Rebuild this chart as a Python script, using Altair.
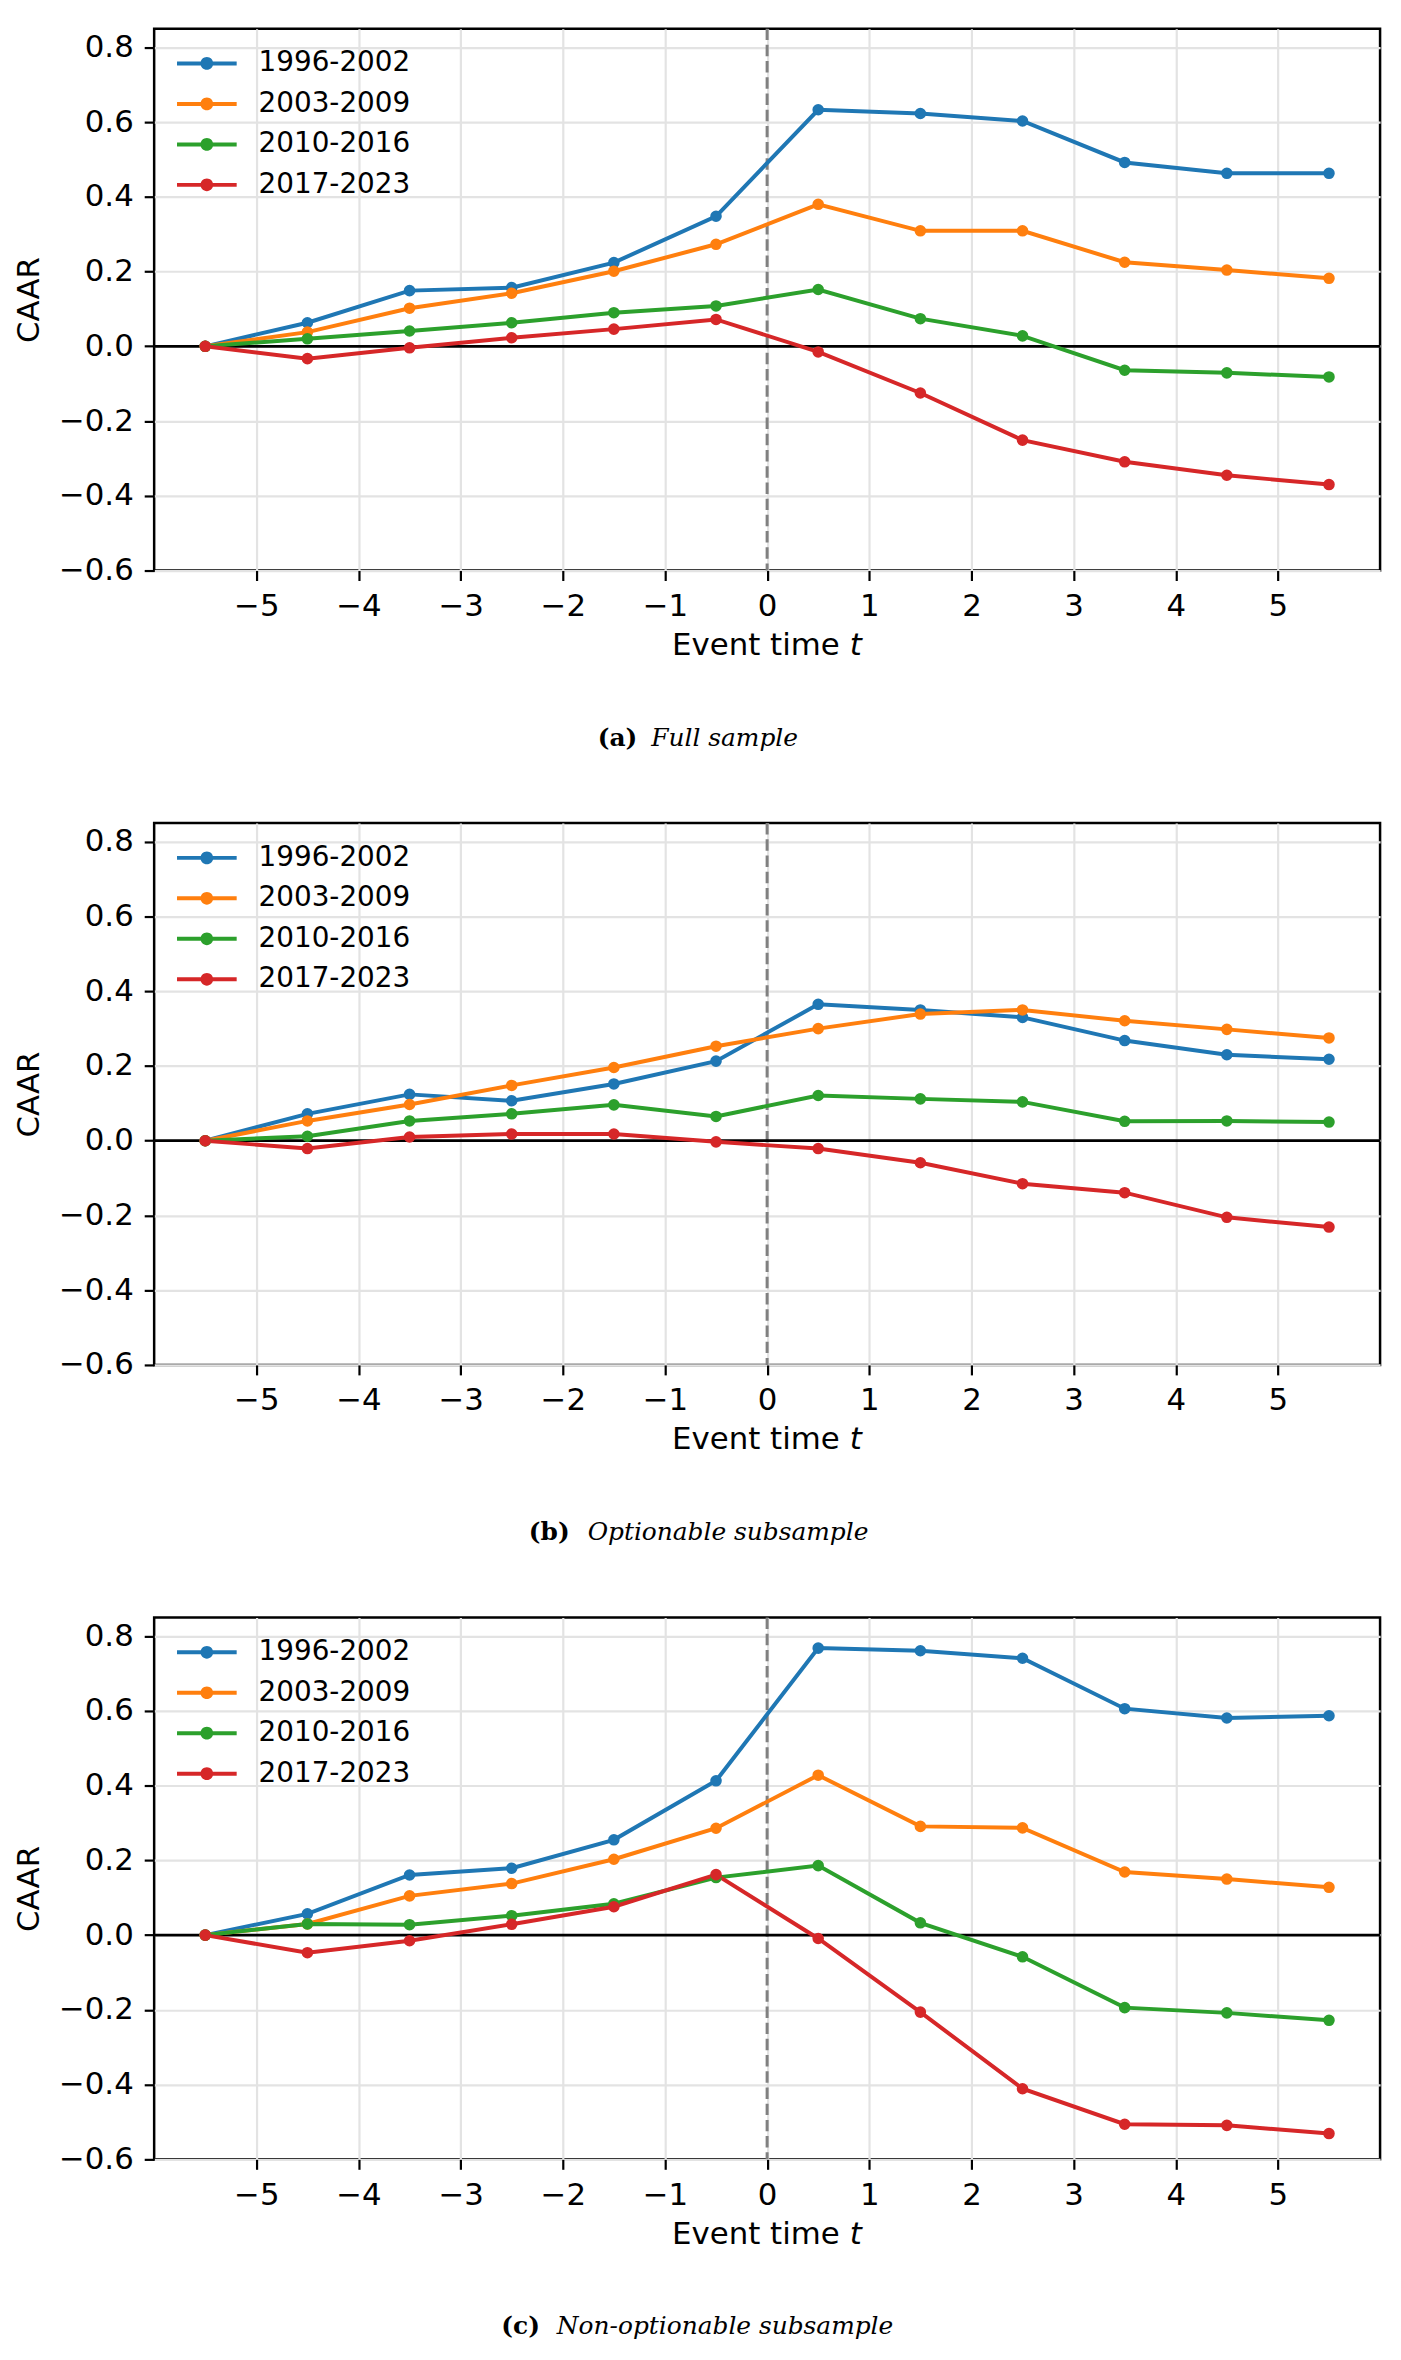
import altair as alt
import pandas as pd

# ---------------- data ----------------
event_time = [-5.5, -4.5, -3.5, -2.5, -1.5, -0.5, 0.5, 1.5, 2.5, 3.5, 4.5, 5.5]
periods = ["1996-2002", "2003-2009", "2010-2016", "2017-2023"]
period_colors = ["#1f77b4", "#ff7f0e", "#2ca02c", "#d62728"]

# (a) Full sample
full_1996 = [0.0, 0.063, 0.149, 0.157, 0.224, 0.348, 0.633, 0.623, 0.603, 0.492, 0.463, 0.463]
full_2003 = [0.0, 0.038, 0.102, 0.142, 0.201, 0.273, 0.380, 0.309, 0.309, 0.225, 0.204, 0.182]
full_2010 = [0.0, 0.020, 0.041, 0.063, 0.090, 0.108, 0.152, 0.074, 0.028, -0.064, -0.071, -0.082]
full_2017 = [0.0, -0.033, -0.004, 0.023, 0.046, 0.072, -0.015, -0.125, -0.251, -0.309, -0.345, -0.370]

# (b) Optionable subsample
opt_1996 = [0.0, 0.072, 0.124, 0.107, 0.152, 0.213, 0.365, 0.350, 0.330, 0.268, 0.230, 0.218]
opt_2003 = [0.0, 0.053, 0.097, 0.148, 0.196, 0.253, 0.300, 0.339, 0.350, 0.321, 0.298, 0.275]
opt_2010 = [0.0, 0.012, 0.053, 0.072, 0.096, 0.065, 0.121, 0.112, 0.104, 0.052, 0.053, 0.050]
opt_2017 = [0.0, -0.021, 0.010, 0.018, 0.018, -0.003, -0.021, -0.059, -0.115, -0.139, -0.205, -0.231]

# (c) Non-optionable subsample
non_1996 = [0.0, 0.057, 0.161, 0.179, 0.255, 0.413, 0.768, 0.761, 0.741, 0.606, 0.581, 0.587]
non_2003 = [0.0, 0.030, 0.105, 0.138, 0.203, 0.286, 0.428, 0.291, 0.287, 0.169, 0.150, 0.128]
non_2010 = [0.0, 0.030, 0.028, 0.052, 0.084, 0.154, 0.186, 0.033, -0.058, -0.194, -0.208, -0.228]
non_2017 = [0.0, -0.047, -0.015, 0.029, 0.076, 0.162, -0.009, -0.206, -0.411, -0.506, -0.509, -0.531]

x_ticks = [-5, -4, -3, -2, -1, 0, 1, 2, 3, 4, 5]
y_ticks = [-0.6, -0.4, -0.2, 0.0, 0.2, 0.4, 0.6, 0.8]

caption_labels = ["(a)", "(b)", "(c)"]
caption_texts = ["Full sample", "Optionable subsample", "Non-optionable subsample"]
x_title_main = "Event time"
x_title_var = "t"

# ---------------- layout / style ----------------
W, H = 1233, 545
SANS = "DejaVu Sans"
SERIF = "DejaVu Serif"
FS = 31
CAP_FS = 25
# caption anchor positions (plot-relative px): label right edge, text left edge
caption_pos = [(486, 500), (418, 436), (388, 405)]

legend_path = ("M-3.0,-0.2L3.0,-0.2L3.0,0.2L-3.0,0.2Z "
               "M0.64,0A0.64,0.64 0 1,1 -0.64,0A0.64,0.64 0 1,1 0.64,0Z")


def text_layer(s, x_px, y_px, align, font, size, style=None, weight=None):
    kw = dict(align=align, baseline="alphabetic", font=font, fontSize=size, color="black")
    if style:
        kw["fontStyle"] = style
    if weight:
        kw["fontWeight"] = weight
    return alt.Chart(pd.DataFrame({"s": [s]})).mark_text(**kw).encode(
        x=alt.value(x_px), y=alt.value(y_px), text="s:N"
    )


def panel(series, idx):
    rows = []
    for name, vals in zip(periods, series):
        for t, v in zip(event_time, vals):
            rows.append({"t": t, "caar": v, "period": name})
    df = pd.DataFrame(rows)

    x = alt.X("t:Q", scale=alt.Scale(domain=[-6, 6], nice=False, zero=False),
              axis=alt.Axis(values=x_ticks, format="d", title=None, grid=True))
    y = alt.Y("caar:Q", scale=alt.Scale(domain=[-0.6, 0.85], nice=False, zero=False),
              axis=alt.Axis(values=y_ticks, format=".1f", title="CAAR", grid=True,
                            titleX=-116, titleY=H / 2, titleAngle=270,
                            titleBaseline="alphabetic", titleAlign="center"))
    cscale = alt.Scale(domain=periods, range=period_colors)
    legend = alt.Legend(title=None, orient="none", legendX=39, legendY=21,
                        symbolType=legend_path, symbolSize=400, symbolStrokeWidth=0,
                        symbolOpacity=1, labelFont=SANS, labelFontSize=28,
                        labelColor="black", labelOffset=38, rowPadding=12.7,
                        padding=0, labelLimit=400)

    one = pd.DataFrame({"v": [0]})
    vline = alt.Chart(one).mark_rule(color="#808080", strokeWidth=3,
                                     strokeDash=[11.5, 4.8]).encode(x=alt.datum(0))
    zero = alt.Chart(one).mark_rule(color="black", strokeWidth=2.8).encode(y=alt.datum(0))
    base = alt.Chart(df)
    lines = base.mark_line(strokeWidth=4).encode(
        x=x, y=y, stroke=alt.Stroke("period:N", scale=cscale, legend=None))
    points = base.mark_circle(size=135, opacity=1).encode(
        x=x, y=y, color=alt.Color("period:N", scale=cscale, legend=legend))

    xt1 = text_layer(x_title_main, W / 2 + 73, H + 85, "right", SANS, FS)
    xt2 = text_layer(x_title_var, W / 2 + 83, H + 85, "left", SANS, FS, style="italic")
    lab_r, txt_l = caption_pos[idx]
    c1 = text_layer(caption_labels[idx], lab_r, H + 176, "right", SERIF, CAP_FS, weight="bold")
    c2 = text_layer(caption_texts[idx], txt_l, H + 176, "left", SERIF, CAP_FS, style="italic")

    return alt.layer(vline, zero, lines, points, xt1, xt2, c1, c2).properties(width=W, height=H)


p1 = panel([full_1996, full_2003, full_2010, full_2017], 0)
p2 = panel([opt_1996, opt_2003, opt_2010, opt_2017], 1)
p3 = panel([non_1996, non_2003, non_2010, non_2017], 2)

chart = (
    alt.vconcat(p1, p2, p3, spacing=254, bounds="flush")
    .resolve_scale(color="independent")
    .resolve_legend(color="independent")
    .properties(padding={"left": 4, "top": 11, "right": 10, "bottom": 10}, background="white")
    .configure_view(stroke="black", strokeWidth=2.5)
    .configure_axis(labelFont=SANS, labelFontSize=FS, labelColor="black",
                    tickColor="black", tickSize=10, tickWidth=2.2, labelPadding=11,
                    domain=False, grid=True, gridColor="#e3e3e3", gridWidth=2.2,
                    gridOpacity=1,
                    titleFont=SANS, titleFontSize=FS, titleFontWeight="normal",
                    titleColor="black")
)

chart.save("out.html", embed_options={"renderer": "svg", "actions": False})
